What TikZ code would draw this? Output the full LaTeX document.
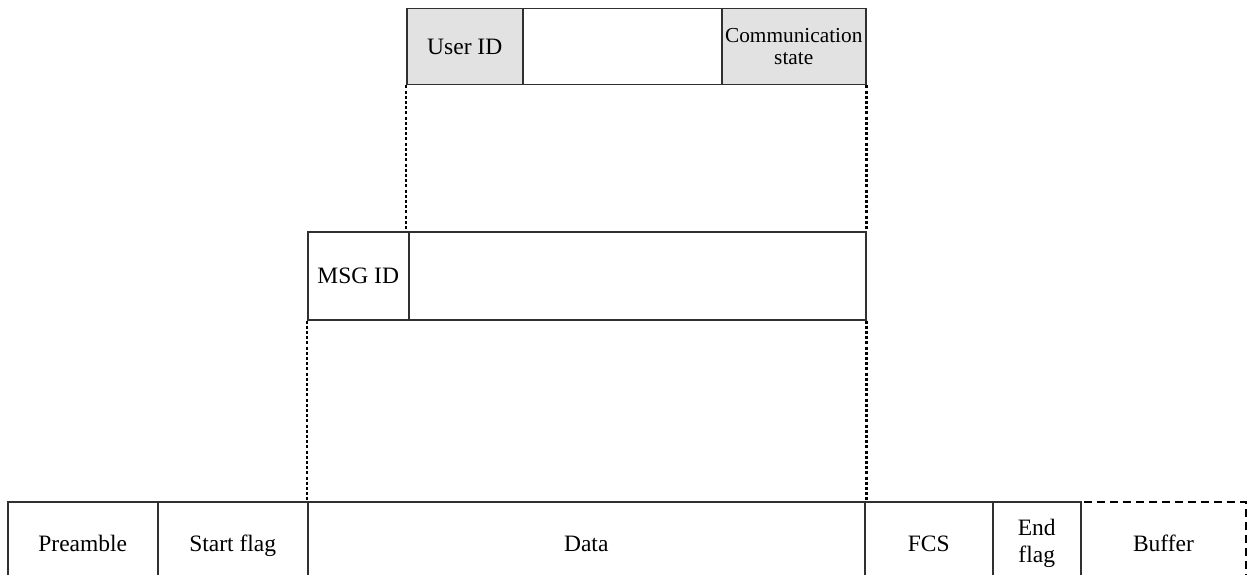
\documentclass[tikz,border=0pt]{standalone}
\usepackage{fontspec}
\setmainfont{Liberation Serif}
\definecolor{linecol}{HTML}{303030}
\definecolor{cellgray}{HTML}{E2E2E2}
\begin{document}
\begin{tikzpicture}[x=1pt,y=-1pt,
  cell/.style={draw=linecol, line width=1.5pt, inner sep=0pt, anchor=north west, align=center,
    minimum height=84pt, font=\fontsize{23.5}{27}\selectfont},
  oneline/.style={text height=17pt, text depth=1pt},
  gcell/.style={cell, fill=cellgray},
  smallfont/.style={font=\fontsize{21.3}{22.5}\selectfont},
  dotline/.style={draw=black, line width=2.6pt, dash pattern=on 3pt off 2.2pt},
  bufbox/.style={cell, draw=black, line width=1.9pt, dash pattern=on 8pt off 5pt}]
\useasboundingbox (0,0) rectangle (1247,575);
\clip (0,0) rectangle (1247,575);
% top row
\node[gcell, oneline, minimum width=116pt, minimum height=76pt] (uid) at (406,8) {User ID};
\node[cell, minimum width=199pt, minimum height=76pt] (blank) at (522,8) {};
\node[gcell, smallfont, minimum width=144pt, minimum height=76pt] (cs) at (721,8) {Communication\\[-1pt]state};
% message row
\node[cell, oneline, minimum width=101pt, minimum height=88pt] (msg) at (307,231) {MSG ID};
\node[cell, minimum width=457pt, minimum height=88pt] (msgdata) at (408,231) {};
% frame row
\node[bufbox, oneline, minimum width=165pt] (buf) at (1080,501) {Buffer};
\node[cell, oneline, minimum width=150pt] (pre) at (7,501) {Preamble};
\node[cell, oneline, minimum width=150pt] (sf) at (157,501) {Start flag};
\node[cell, oneline, minimum width=557pt] (data) at (307,501) {Data};
\node[cell, oneline, minimum width=128pt] (fcs) at (864,501) {FCS};
\node[cell, minimum width=88pt] (ef) at (992,501) {End\\flag};
% dotted expansion lines
\draw[dotline] (uid.south west) -- (uid.south west |- msgdata.north);
\draw[dotline] (cs.south east) -- (cs.south east |- msgdata.north);
\draw[dotline] (msg.south west) -- (msg.south west |- data.north);
\draw[dotline] (msgdata.south east) -- (msgdata.south east |- data.north);
\end{tikzpicture}
\end{document}
